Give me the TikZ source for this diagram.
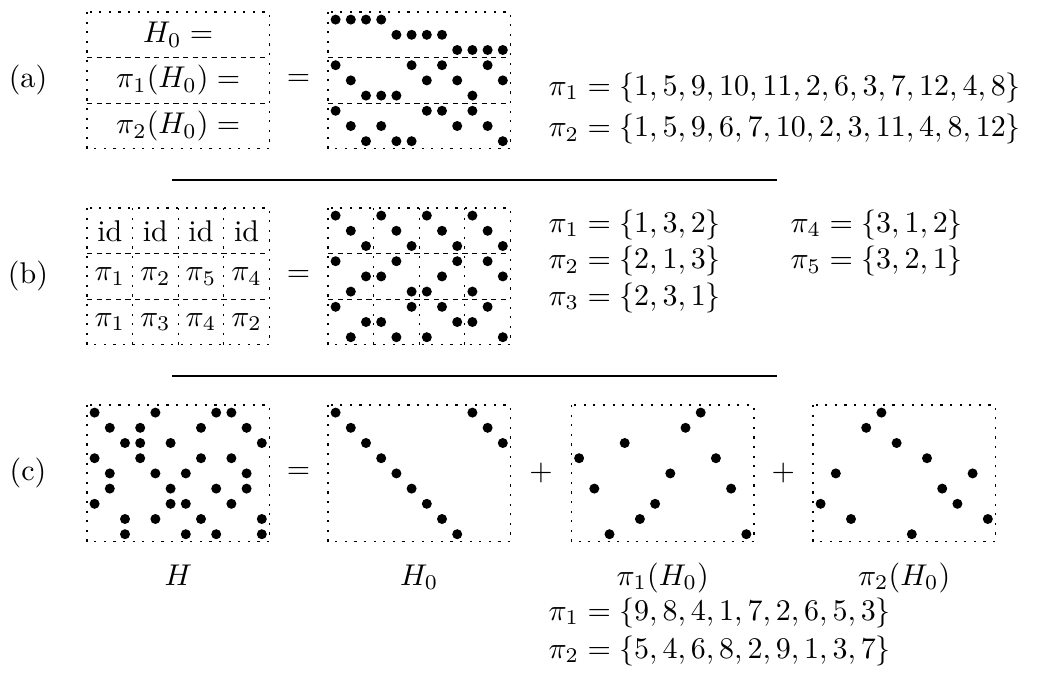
\documentclass[tikz,border=0pt]{standalone}
\usepackage{amsmath}
\usepackage{tikz}

% one row of dots per column: x0, y0, row of each column
\newcommand{\dotline}[3]{%
  \foreach \r [count=\c] in {#3}
    \fill ({#1+(\c-0.5)*15.2},{#2+(\r-0.5)*15.2}) circle (5);}

\begin{document}
\begin{tikzpicture}[
  x=0.3333pt, y=-0.3333pt,
  dotbox/.style={dash pattern=on 0.7pt off 2.5pt},
  cutline/.style={dash pattern=on 1.7pt off 1.5pt},
  rule/.style={line width=0.6pt},
  lbl/.style={inner sep=0pt, anchor=base west}
]
\useasboundingbox (0,0) rectangle (1045,682);

% (a)
\node (la) at (28,80.4) {(a)};
\draw[dotbox] (87,12) rectangle (269.4,148.8);
\draw[cutline] (87,57.6) -- (269.4,57.6) (87,103.2) -- (269.4,103.2);
\node (ta1) at (178.2,34.8) {$H_0 =$};
\node (ta2) at (178.2,80.4) {$\pi_1(H_0) =$};
\node (ta3) at (178.2,126) {$\pi_2(H_0) =$};
\node (eqa) at (298.5,80.4) {$=$};
\draw[dotbox] (328,12) rectangle (510.4,148.8);
\draw[cutline] (328,57.6) -- (510.4,57.6) (328,103.2) -- (510.4,103.2);
\dotline{328}{12}{1,1,1,1,2,2,2,2,3,3,3,3}
\dotline{328}{57.6}{1,2,3,3,3,1,2,1,2,3,1,2}
\dotline{328}{103.2}{1,2,3,2,3,3,1,1,2,1,2,3}
\node[lbl] (pa1) at (548,95) {$\pi_1 = \{1,5,9,10,11,2,6,3,7,12,4,8\}$};
\node[lbl] (pa2) at (548,136.7) {$\pi_2 = \{1,5,9,6,7,10,2,3,11,4,8,12\}$};

\coordinate (r1a) at (172,180);
\coordinate (r1b) at (777,180);
\draw[rule] (r1a) -- (r1b);

% (b)
\node (lb) at (28,276.4) {(b)};
\draw[dotbox] (87,208) rectangle (269.4,344.8);
\draw[cutline] (87,253.6) -- (269.4,253.6) (87,299.2) -- (269.4,299.2);
\foreach \k in {1,2,3}
  \draw[dotbox] ({87+\k*45.6},208) -- ({87+\k*45.6},344.8);
\foreach \c in {1,...,4}
  \node (gb1-\c) at ({87+(\c-0.5)*45.6},230.8) {id};
\foreach \k [count=\c] in {1,2,5,4}
  \node (gb2-\c) at ({87+(\c-0.5)*45.6},276.4) {$\pi_{\k}$};
\foreach \k [count=\c] in {1,3,4,2}
  \node (gb3-\c) at ({87+(\c-0.5)*45.6},322) {$\pi_{\k}$};
\node (eqb) at (298.5,276.4) {$=$};
\draw[dotbox] (328,208) rectangle (510.4,344.8);
\draw[cutline] (328,253.6) -- (510.4,253.6) (328,299.2) -- (510.4,299.2);
\foreach \k in {1,2,3}
  \draw[dotbox] ({328+\k*45.6},208) -- ({328+\k*45.6},344.8);
\dotline{328}{208}{1,2,3,1,2,3,1,2,3,1,2,3}
\dotline{328}{253.6}{1,3,2,2,1,3,3,2,1,3,1,2}
\dotline{328}{299.2}{1,3,2,2,3,1,3,1,2,2,1,3}
\node[lbl] (pb1) at (548,232) {$\pi_1 = \{1,3,2\}$};
\node[lbl] (pb2) at (548,268.5) {$\pi_2 = \{2,1,3\}$};
\node[lbl] (pb3) at (548,305) {$\pi_3 = \{2,3,1\}$};
\node[lbl] (pb4) at (790,232) {$\pi_4 = \{3,1,2\}$};
\node[lbl] (pb5) at (790,268.5) {$\pi_5 = \{3,2,1\}$};

\coordinate (r2a) at (172,376);
\coordinate (r2b) at (777,376);
\draw[rule] (r2a) -- (r2b);

% (c)
\node (lc) at (28,473.4) {(c)};
\draw[dotbox] (87,405) rectangle (269.4,541.8);
\dotline{87}{405}{1,2,3,4,5,6,7,8,9,1,2,3}
\dotline{87}{405}{4,6,9,3,8,7,5,2,1,4,6,9}
\dotline{87}{405}{7,5,8,2,1,3,9,4,6,7,5,8}
\node (eqc) at (298.5,473.4) {$=$};
\draw[dotbox] (328,405) rectangle (510.4,541.8);
\dotline{328}{405}{1,2,3,4,5,6,7,8,9,1,2,3}
\node (plus1) at (541,473.4) {$+$};
\draw[dotbox] (571.5,405) rectangle (753.9,541.8);
\dotline{571.5}{405}{4,6,9,3,8,7,5,2,1,4,6,9}
\node (plus2) at (783.3,473.4) {$+$};
\draw[dotbox] (813,405) rectangle (995.4,541.8);
\dotline{813}{405}{7,5,8,2,1,3,9,4,6,7,5,8}
\node[anchor=base] (nH) at (178.2,585) {$H$};
\node[anchor=base] (nH0) at (419.2,585) {$H_0$};
\node[anchor=base] (nP1) at (662.7,585) {$\pi_1(H_0)$};
\node[anchor=base] (nP2) at (904.2,585) {$\pi_2(H_0)$};
\node[lbl] (pc1) at (548,620) {$\pi_1 = \{9,8,4,1,7,2,6,5,3\}$};
\node[lbl] (pc2) at (548,658) {$\pi_2 = \{5,4,6,8,2,9,1,3,7\}$};
\end{tikzpicture}
\end{document}
